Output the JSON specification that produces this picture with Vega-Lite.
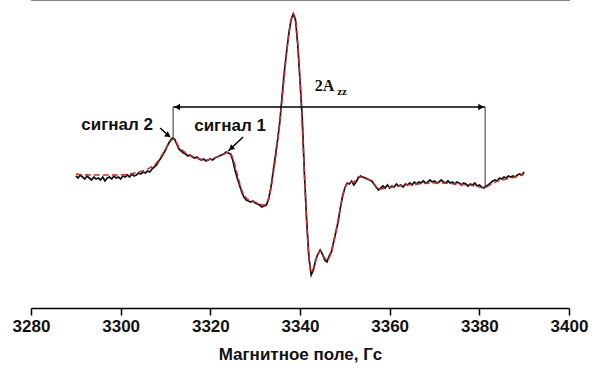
{
  "$schema": "https://vega.github.io/schema/vega-lite/v6.json",
  "autosize": "none",
  "width": 538,
  "height": 308,
  "padding": {"left": 31, "top": 0, "right": 23, "bottom": 62},
  "background": "white",
  "config": {"view": {"stroke": null}, "aria": false},
  "datasets": {
    "exp": [
      {"B":3290.0,"I":4},{"B":3290.5,"I":2},{"B":3291.0,"I":5},{"B":3291.5,"I":3},{"B":3292.0,"I":1},{"B":3292.5,"I":4},{"B":3293.0,"I":2},{"B":3293.5,"I":0},{"B":3294.0,"I":3},{"B":3294.5,"I":1},{"B":3295.0,"I":2},{"B":3295.5,"I":0},{"B":3296.0,"I":3},{"B":3296.5,"I":-1},{"B":3297.0,"I":2},{"B":3297.5,"I":3},{"B":3298.0,"I":1},{"B":3298.5,"I":4},{"B":3299.0,"I":2},{"B":3299.5,"I":3},
      {"B":3300.0,"I":1},{"B":3300.5,"I":4},{"B":3301.0,"I":3},{"B":3301.5,"I":5},{"B":3302.0,"I":3},{"B":3302.5,"I":6},{"B":3303.0,"I":4},{"B":3303.5,"I":5},{"B":3304.0,"I":7},{"B":3304.5,"I":6},{"B":3305.0,"I":8},{"B":3305.5,"I":7},{"B":3306.0,"I":9},{"B":3306.5,"I":8},{"B":3307.0,"I":11},{"B":3307.5,"I":13},{"B":3308.0,"I":15},{"B":3308.5,"I":19},{"B":3309.0,"I":22},{"B":3309.5,"I":26},
      {"B":3310.0,"I":30},{"B":3310.5,"I":35},{"B":3311.0,"I":39},{"B":3311.5,"I":42},{"B":3312.0,"I":41},{"B":3312.5,"I":36},{"B":3313.0,"I":31},{"B":3313.5,"I":29},{"B":3314.0,"I":27},{"B":3314.5,"I":26},{"B":3315.0,"I":24},{"B":3315.5,"I":25},{"B":3316.0,"I":23},{"B":3316.5,"I":22},{"B":3317.0,"I":23},{"B":3317.5,"I":21},{"B":3318.0,"I":20},{"B":3318.5,"I":21},{"B":3319.0,"I":19},{"B":3319.5,"I":20},
      {"B":3320.0,"I":21},{"B":3320.5,"I":20},{"B":3321.0,"I":22},{"B":3321.5,"I":23},{"B":3322.0,"I":24},{"B":3322.5,"I":25},{"B":3323.0,"I":26},{"B":3323.5,"I":28},{"B":3324.0,"I":27},{"B":3324.5,"I":26},{"B":3325.0,"I":20},{"B":3325.5,"I":10},{"B":3326.0,"I":2},{"B":3326.5,"I":-5},{"B":3327.0,"I":-12},{"B":3327.5,"I":-17},{"B":3328.0,"I":-20},{"B":3328.5,"I":-21},{"B":3329.0,"I":-22},{"B":3329.5,"I":-21},
      {"B":3330.0,"I":-23},{"B":3330.5,"I":-24},{"B":3331.0,"I":-25},{"B":3331.5,"I":-27},{"B":3332.0,"I":-26},{"B":3332.5,"I":-25},{"B":3333.0,"I":-19},{"B":3333.5,"I":-8},{"B":3334.0,"I":8},{"B":3334.5,"I":24},{"B":3335.0,"I":40},{"B":3335.5,"I":58},{"B":3336.0,"I":84},{"B":3336.5,"I":108},{"B":3337.0,"I":128},{"B":3337.5,"I":146},{"B":3338.0,"I":160},{"B":3338.5,"I":166},{"B":3339.0,"I":160},{"B":3339.5,"I":135},
      {"B":3340.0,"I":100},{"B":3340.5,"I":62},{"B":3341.0,"I":5},{"B":3341.5,"I":-42},{"B":3342.0,"I":-78},{"B":3342.5,"I":-95},{"B":3343.0,"I":-90},{"B":3343.5,"I":-80},{"B":3344.0,"I":-74},{"B":3344.5,"I":-70},{"B":3345.0,"I":-74},{"B":3345.5,"I":-80},{"B":3346.0,"I":-82},{"B":3346.5,"I":-76},{"B":3347.0,"I":-72},{"B":3347.5,"I":-62},{"B":3348.0,"I":-52},{"B":3348.5,"I":-42},{"B":3349.0,"I":-28},{"B":3349.5,"I":-16},
      {"B":3350.0,"I":-8},{"B":3350.5,"I":-3},{"B":3351.0,"I":-4},{"B":3351.5,"I":-1},{"B":3352.0,"I":-5},{"B":3352.5,"I":-2},{"B":3353.0,"I":2},{"B":3353.5,"I":4},{"B":3354.0,"I":3},{"B":3354.5,"I":2},{"B":3355.0,"I":1},{"B":3355.5,"I":0},{"B":3356.0,"I":-1},{"B":3356.5,"I":-4},{"B":3357.0,"I":-7},{"B":3357.5,"I":-10},{"B":3358.0,"I":-8},{"B":3358.5,"I":-6},{"B":3359.0,"I":-8},{"B":3359.5,"I":-5},
      {"B":3360.0,"I":-8},{"B":3360.5,"I":-6},{"B":3361.0,"I":-7},{"B":3361.5,"I":-4},{"B":3362.0,"I":-6},{"B":3362.5,"I":-5},{"B":3363.0,"I":-7},{"B":3363.5,"I":-4},{"B":3364.0,"I":-5},{"B":3364.5,"I":-3},{"B":3365.0,"I":-5},{"B":3365.5,"I":-2},{"B":3366.0,"I":-4},{"B":3366.5,"I":-2},{"B":3367.0,"I":-3},{"B":3367.5,"I":-1},{"B":3368.0,"I":-3},{"B":3368.5,"I":-2},{"B":3369.0,"I":0},{"B":3369.5,"I":-2},
      {"B":3370.0,"I":-1},{"B":3370.5,"I":-3},{"B":3371.0,"I":-2},{"B":3371.5,"I":0},{"B":3372.0,"I":-2},{"B":3372.5,"I":-3},{"B":3373.0,"I":-1},{"B":3373.5,"I":-3},{"B":3374.0,"I":-2},{"B":3374.5,"I":-4},{"B":3375.0,"I":-2},{"B":3375.5,"I":-3},{"B":3376.0,"I":-5},{"B":3376.5,"I":-3},{"B":3377.0,"I":-4},{"B":3377.5,"I":-6},{"B":3378.0,"I":-4},{"B":3378.5,"I":-5},{"B":3379.0,"I":-3},{"B":3379.5,"I":-6},
      {"B":3380.0,"I":-5},{"B":3380.5,"I":-7},{"B":3381.0,"I":-8},{"B":3381.5,"I":-6},{"B":3382.0,"I":-5},{"B":3382.5,"I":-3},{"B":3383.0,"I":-1},{"B":3383.5,"I":0},{"B":3384.0,"I":-1},{"B":3384.5,"I":2},{"B":3385.0,"I":1},{"B":3385.5,"I":3},{"B":3386.0,"I":2},{"B":3386.5,"I":4},{"B":3387.0,"I":3},{"B":3387.5,"I":4},{"B":3388.0,"I":3},{"B":3388.5,"I":5},{"B":3389.0,"I":6},{"B":3389.5,"I":5},{"B":3390.0,"I":8}
    ],
    "fit": [
      {"B":3290,"I":6},{"B":3293,"I":5},{"B":3296,"I":5},{"B":3299,"I":5},{"B":3302,"I":6},{"B":3304,"I":8},{"B":3306,"I":11},{"B":3308,"I":17},{"B":3309.5,"I":27},{"B":3311,"I":38},{"B":3311.8,"I":41},{"B":3313,"I":33},{"B":3315,"I":26},{"B":3317,"I":22},{"B":3319,"I":20},{"B":3321,"I":22},{"B":3323,"I":26},{"B":3324.2,"I":28},{"B":3325,"I":22},{"B":3326,"I":6},{"B":3327,"I":-10},{"B":3328,"I":-18},{"B":3330,"I":-22},{"B":3332,"I":-25},{"B":3333,"I":-18},{"B":3334,"I":5},{"B":3335,"I":38},{"B":3336,"I":80},{"B":3337,"I":126},{"B":3338,"I":160},{"B":3338.5,"I":166},{"B":3339,"I":160},{"B":3340,"I":100},{"B":3341,"I":5},{"B":3342,"I":-78},{"B":3342.5,"I":-92},{"B":3343,"I":-88},{"B":3344,"I":-74},{"B":3344.6,"I":-71},{"B":3345.5,"I":-78},{"B":3346,"I":-80},{"B":3347,"I":-72},{"B":3348,"I":-52},{"B":3349,"I":-28},{"B":3350,"I":-8},{"B":3351,"I":-2},{"B":3352,"I":-2},{"B":3353,"I":3},{"B":3354,"I":3},{"B":3356,"I":-2},{"B":3357.5,"I":-9},{"B":3359,"I":-8},{"B":3362,"I":-6},{"B":3366,"I":-4},{"B":3370,"I":-3},{"B":3375,"I":-4},{"B":3379,"I":-6},{"B":3381,"I":-8},{"B":3383,"I":-3},{"B":3386,"I":1},{"B":3388,"I":3},{"B":3390,"I":6}
    ],
    "rules": [
      {"B":3311.7,"B2":3381.3,"I":73,"I2":73}
    ],
    "vrules": [
      {"B":3311.7,"B2":3311.7,"I":73,"I2":42},
      {"B":3381.3,"B2":3381.3,"I":73,"I2":-8}
    ],
    "pointers": [
      {"B":3308.8,"B2":3311.0,"I":52,"I2":43},
      {"B":3327.3,"B2":3324.0,"I":43,"I2":29}
    ]
  },
  "layer": [
    {
      "data": {"name": "exp"},
      "mark": {"type": "line", "color": "#111111", "strokeWidth": 1.7},
      "encoding": {
        "x": {"field": "B", "type": "quantitative", "scale": {"domain": [3280, 3400], "nice": false, "zero": false},
          "axis": {"values": [3280,3300,3320,3340,3360,3380,3400], "format": "d", "grid": false, "domainColor": "#000", "domainWidth": 1.5, "tickColor": "#000", "tickWidth": 1.5, "tickSize": 7, "labelFont": "Liberation Sans", "labelFontWeight": "bold", "labelFontSize": 17, "labelColor": "#111", "labelPadding": 3, "labelFlush": false, "labelOverlap": false, "title": "Магнитное поле, Гс", "titleFont": "Liberation Sans", "titleFontWeight": "bold", "titleFontSize": 17, "titleColor": "#111", "titlePadding": 12}},
        "y": {"field": "I", "type": "quantitative", "scale": {"domain": [-128, 180], "nice": false, "zero": false}, "axis": null}
      }
    },
    {
      "data": {"name": "fit"},
      "mark": {"type": "line", "color": "#d42a2a", "strokeWidth": 1.5, "strokeDash": [6, 3], "interpolate": "monotone"},
      "encoding": {
        "x": {"field": "B", "type": "quantitative", "axis": {"values": [3290,3310,3330,3350,3370,3390], "grid": false, "domain": false, "labels": false, "tickColor": "#000", "tickWidth": 1.3, "tickSize": 4, "title": null}},
        "y": {"field": "I", "type": "quantitative"}
      }
    },
    {
      "data": {"name": "rules"},
      "mark": {"type": "rule", "color": "#000", "strokeWidth": 1.5},
      "encoding": {
        "x": {"field": "B", "type": "quantitative"}, "x2": {"field": "B2"},
        "y": {"field": "I", "type": "quantitative"}, "y2": {"field": "I2"}
      }
    },
    {
      "data": {"name": "vrules"},
      "mark": {"type": "rule", "color": "#444", "strokeWidth": 1.1},
      "encoding": {
        "x": {"field": "B", "type": "quantitative"}, "x2": {"field": "B2"},
        "y": {"field": "I", "type": "quantitative"}, "y2": {"field": "I2"}
      }
    },
    {
      "data": {"name": "pointers"},
      "mark": {"type": "rule", "color": "#000", "strokeWidth": 1.5},
      "encoding": {
        "x": {"field": "B", "type": "quantitative"}, "x2": {"field": "B2"},
        "y": {"field": "I", "type": "quantitative"}, "y2": {"field": "I2"}
      }
    },
    {
      "data": {"values": [{"B": 3312.6, "I": 73}]},
      "mark": {"type": "point", "shape": "triangle-left", "filled": true, "color": "#000", "size": 45, "opacity": 1},
      "encoding": {"x": {"field": "B", "type": "quantitative"}, "y": {"field": "I", "type": "quantitative"}}
    },
    {
      "data": {"values": [{"B": 3380.4, "I": 73}]},
      "mark": {"type": "point", "shape": "triangle-right", "filled": true, "color": "#000", "size": 45, "opacity": 1},
      "encoding": {"x": {"field": "B", "type": "quantitative"}, "y": {"field": "I", "type": "quantitative"}}
    },
    {
      "data": {"values": [{"B": 3310.6, "I": 44.5}]},
      "mark": {"type": "point", "shape": "triangle-right", "filled": true, "color": "#000", "size": 40, "opacity": 1, "angle": 35},
      "encoding": {"x": {"field": "B", "type": "quantitative"}, "y": {"field": "I", "type": "quantitative"}}
    },
    {
      "data": {"values": [{"B": 3324.6, "I": 31.5}]},
      "mark": {"type": "point", "shape": "triangle-right", "filled": true, "color": "#000", "size": 40, "opacity": 1, "angle": 139},
      "encoding": {"x": {"field": "B", "type": "quantitative"}, "y": {"field": "I", "type": "quantitative"}}
    },
    {
      "data": {"values": [{"B": 3299.2, "I": 55, "t": "сигнал 2"}, {"B": 3324.4, "I": 54, "t": "сигнал 1"}]},
      "mark": {"type": "text", "font": "Liberation Sans", "fontWeight": "bold", "fontSize": 17, "color": "#111", "align": "center", "baseline": "middle"},
      "encoding": {"x": {"field": "B", "type": "quantitative"}, "y": {"field": "I", "type": "quantitative"}, "text": {"field": "t"}}
    },
    {
      "data": {"values": [{"B": 3343.3, "I": 89, "t": "2A"}]},
      "mark": {"type": "text", "font": "Liberation Serif", "fontWeight": "bold", "fontSize": 16, "color": "#111", "align": "left", "baseline": "alphabetic"},
      "encoding": {"x": {"field": "B", "type": "quantitative"}, "y": {"field": "I", "type": "quantitative"}, "text": {"field": "t"}}
    },
    {
      "data": {"values": [{"B": 3348.3, "I": 85, "t": "zz"}]},
      "mark": {"type": "text", "font": "Liberation Serif", "fontWeight": "bold", "fontSize": 11, "color": "#111", "align": "left", "baseline": "alphabetic"},
      "encoding": {"x": {"field": "B", "type": "quantitative"}, "y": {"field": "I", "type": "quantitative"}, "text": {"field": "t"}}
    }
  ],
  "resolve": {"axis": {"x": "independent"}}
}
